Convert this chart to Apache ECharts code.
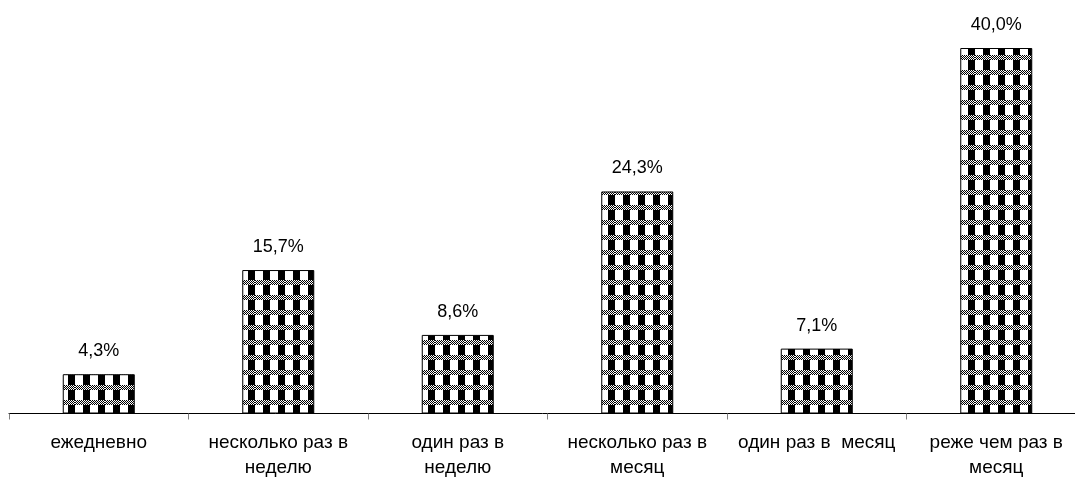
<!DOCTYPE html>
<html>
<head>
<meta charset="utf-8">
<script src="https://cdn.jsdelivr.net/npm/echarts@6/dist/echarts.min.js"></script>
<style>
html,body{margin:0;padding:0;background:#fff;}
#chart{width:1075px;height:478px;}
</style>
</head>
<body>
<div id="chart"></div>
<script>
const categories = [
  'ежедневно',
  'несколько раз в\nнеделю',
  'один раз в\nнеделю',
  'несколько раз в\nмесяц',
  'один раз в  месяц',
  'реже чем раз в\nмесяц'
];
const values = [4.3, 15.7, 8.6, 24.3, 7.1, 40.0];

function makeTile() {
  const c = document.createElement('canvas');
  c.width = 15; c.height = 15;
  const g = c.getContext('2d');
  g.fillStyle = '#fff';
  g.fillRect(0, 0, 15, 15);
  g.fillStyle = '#000';
  g.fillRect(8, 0, 7, 10);
  for (let y = 10; y < 15; y++) {
    for (let x = 0; x < 15; x++) {
      if ((x + y) % 2 === 0) g.fillRect(x, y, 1, 1);
    }
  }
  return c;
}

const chart = echarts.init(document.getElementById('chart'), null, {renderer: 'canvas'});
const font = 'Arial, "Liberation Sans", sans-serif';
chart.setOption({
  animation: false,
  backgroundColor: '#fff',
  grid: {left: 9, right: -11, top: 48, bottom: 64.5, containLabel: false, outerBoundsMode: 'none'},
  xAxis: {
    type: 'category',
    data: categories,
    axisLine: {lineStyle: {color: '#000', width: 1}},
    axisTick: {show: true, length: 6, lineStyle: {color: '#808080'}},
    axisLabel: {
      color: '#000', fontFamily: font, fontSize: 19, lineHeight: 25,
      margin: 17, interval: 0
    }
  },
  yAxis: {
    type: 'value', min: 0, max: 40, show: false,
    splitLine: {show: false}
  },
  series: [{
    type: 'bar',
    data: values,
    barWidth: 72,
    itemStyle: {
      color: {image: makeTile(), repeat: 'repeat'},
      borderColor: '#000',
      borderWidth: 1
    },
    label: {
      show: true, position: 'top', distance: 14,
      color: '#000', fontFamily: font, fontSize: 18, lineHeight: 18,
      formatter: p => p.value.toFixed(1).replace('.', ',') + '%'
    }
  }]
});
</script>
</body>
</html>
